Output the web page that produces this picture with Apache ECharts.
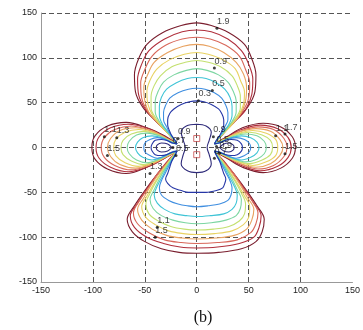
<!DOCTYPE html>
<html>
<head>
<meta charset="utf-8">
<script src="https://cdn.jsdelivr.net/npm/echarts@6/dist/echarts.min.js"></script>
<style>html,body{margin:0;padding:0;background:#fff;}#c{width:363px;height:330px;}</style>
</head>
<body>
<div id="c"></div>
<script>
// ---- data (x, y in axis units); null separates lobes ----
const ticks = [-150, -100, -50, 0, 50, 100, 150];
const levelNames = ['1.9','1.8','1.7','1.5','1.3','1.1','0.9','0.7','0.5','0.3'];
const levelColors = ['#7a1e2e','#b02f3c','#d8675a','#e8a260','#e8d262','#c4e070','#7cd6a2','#3fc4d6','#3f8ee0','#2636a6'];

const c0 = [[-19,4],[-28,16],[-40,30],[-52,45],[-59,62],[-60,81],[-56,99],[-48,115],[-33,128],[-15,136],[0,139],[14,136],[31,128],[46,115],[53,99],[57,81],[56,62],[49,45],[37,30],[26,16],[17,4],null,
 [17,4],[29,12],[44,22],[64,27],[81,23],[92,12],[95,0],[92,-12],[81,-23],[64,-28],[44,-22],[29,-12],[17,-4],null,
 [17,-4],[26,-16],[37,-31],[48,-48],[58,-65],[65,-80],[63,-94],[57,-105],[43,-113],[21,-117],[0,-118],[-17,-117],[-34,-113],[-50,-105],[-62,-94],[-67,-80],[-60,-65],[-50,-48],[-39,-31],[-28,-16],[-19,-4],null,
 [-19,-4],[-31,-12],[-48,-22],[-68,-29],[-86,-24],[-98,-13],[-101,0],[-98,13],[-86,24],[-68,28],[-48,22],[-31,13],[-19,4]];
const c1 = [[-19,4],[-27,15],[-38,28],[-49,42],[-56,59],[-57,76],[-53,93],[-46,108],[-31,121],[-14,129],[0,131],[14,129],[30,121],[43,108],[50,93],[54,76],[53,59],[47,42],[36,28],[25,15],[17,4],null,
 [17,4],[28,11],[43,20],[61,25],[78,21],[88,11],[91,0],[88,-11],[78,-21],[61,-26],[43,-20],[28,-11],[17,-4],null,
 [17,-4],[26,-15],[36,-30],[46,-46],[55,-62],[62,-76],[60,-89],[55,-100],[41,-107],[20,-111],[0,-112],[-16,-111],[-32,-107],[-48,-100],[-60,-89],[-64,-76],[-57,-62],[-48,-46],[-38,-30],[-28,-15],[-19,-4],null,
 [-19,-4],[-31,-12],[-46,-21],[-66,-27],[-83,-22],[-94,-12],[-97,0],[-94,12],[-83,22],[-66,26],[-46,21],[-31,12],[-19,4]];
const c2 = [[-19,4],[-27,15],[-37,27],[-47,40],[-53,55],[-54,72],[-50,87],[-43,102],[-30,114],[-14,121],[0,123],[13,121],[28,114],[41,102],[47,87],[51,72],[50,55],[44,40],[34,27],[25,15],[17,4],null,
 [17,4],[28,10],[42,18],[59,23],[74,20],[84,10],[87,0],[84,-10],[74,-20],[59,-24],[42,-18],[28,-10],[17,-4],null,
 [17,-4],[25,-15],[35,-28],[44,-44],[53,-59],[59,-73],[57,-85],[52,-95],[39,-103],[20,-106],[0,-107],[-15,-106],[-31,-103],[-46,-95],[-57,-85],[-61,-73],[-55,-59],[-46,-44],[-37,-28],[-27,-15],[-19,-4],null,
 [-19,-4],[-30,-11],[-45,-19],[-63,-25],[-79,-20],[-89,-11],[-92,0],[-89,11],[-79,20],[-63,24],[-45,19],[-30,11],[-19,4]];
const c3 = [[-19,4],[-26,14],[-35,25],[-45,37],[-50,52],[-51,67],[-47,82],[-41,95],[-28,106],[-13,113],[0,115],[12,113],[26,106],[38,95],[45,82],[48,67],[47,52],[42,37],[33,25],[24,14],[17,4],null,
 [17,4],[27,9],[40,17],[57,21],[71,18],[80,9],[83,0],[80,-9],[71,-18],[57,-22],[40,-17],[27,-9],[17,-4],null,
 [17,-4],[24,-14],[33,-27],[42,-42],[49,-56],[55,-69],[53,-81],[48,-91],[36,-98],[18,-101],[0,-102],[-14,-101],[-29,-98],[-43,-91],[-53,-81],[-57,-69],[-51,-56],[-44,-42],[-35,-27],[-26,-14],[-19,-4],null,
 [-19,-4],[-29,-10],[-42,-18],[-59,-23],[-74,-19],[-83,-10],[-86,0],[-83,10],[-74,19],[-59,22],[-42,18],[-29,10],[-19,4]];
const c4 = [[-19,4],[-25,13],[-34,23],[-42,35],[-47,48],[-48,62],[-45,75],[-38,88],[-26,98],[-12,104],[0,106],[11,104],[25,98],[37,88],[42,75],[46,62],[45,48],[40,35],[32,23],[23,13],[17,4],null,
 [17,4],[26,9],[38,15],[54,19],[67,16],[76,9],[78,0],[76,-9],[67,-16],[54,-20],[38,-15],[26,-9],[17,-4],null,
 [17,-4],[24,-14],[31,-26],[39,-40],[46,-54],[51,-66],[50,-78],[45,-86],[34,-93],[17,-96],[0,-97],[-13,-96],[-27,-93],[-40,-86],[-49,-78],[-53,-66],[-48,-54],[-41,-40],[-33,-26],[-26,-14],[-19,-4],null,
 [-19,-4],[-28,-9],[-40,-16],[-56,-21],[-69,-17],[-78,-9],[-80,0],[-78,9],[-69,17],[-56,20],[-40,16],[-28,9],[-19,4]];
const c5 = [[-19,4],[-25,12],[-32,22],[-39,32],[-44,44],[-44,57],[-41,69],[-35,80],[-24,90],[-11,95],[0,97],[11,95],[23,90],[34,80],[39,69],[42,57],[42,44],[37,32],[30,22],[23,12],[17,4],null,
 [17,4],[25,8],[37,14],[51,17],[63,14],[71,8],[73,0],[71,-8],[63,-14],[51,-18],[37,-14],[25,-8],[17,-4],null,
 [17,-4],[23,-13],[30,-25],[37,-38],[43,-51],[47,-63],[46,-74],[41,-82],[31,-88],[16,-91],[0,-92],[-12,-91],[-25,-88],[-37,-82],[-46,-74],[-49,-63],[-45,-51],[-39,-38],[-32,-25],[-25,-13],[-19,-4],null,
 [-19,-4],[-27,-8],[-38,-14],[-51,-19],[-63,-15],[-71,-8],[-73,0],[-71,8],[-63,15],[-51,18],[-38,14],[-27,8],[-19,4]];
const c6 = [[-19,4],[-24,12],[-30,20],[-36,29],[-40,40],[-40,52],[-37,63],[-32,73],[-22,81],[-10,86],[0,88],[10,86],[21,81],[30,73],[35,63],[38,52],[38,40],[34,29],[28,20],[22,12],[17,4],null,
 [17,4],[24.5,7],[34.5,12],[47,15],[58,13],[65,7],[67,0],[65,-7],[58,-13],[47,-16],[34.5,-12],[24.5,-7],[17,-4],null,
 [17,-4],[22,-13],[28,-23],[34,-35],[39,-47],[43,-58],[42,-68],[38,-76],[28,-81],[14,-84],[0,-85],[-11,-84],[-23,-81],[-34,-76],[-42,-68],[-45,-58],[-41,-47],[-36,-35],[-30,-23],[-24,-13],[-19,-4],null,
 [-19,-4],[-26,-7],[-36,-13],[-48,-17],[-58,-14],[-65,-7],[-67,0],[-65,7],[-58,14],[-48,16],[-36,13],[-26,7],[-19,4]];
const c7 = [[-19,4],[-23,11],[-28,18],[-33,26],[-36,36],[-36,46],[-34,56],[-29,65],[-20,72],[-9,77],[0,78],[9,77],[19,72],[27,65],[32,56],[34,46],[34,36],[31,26],[26,18],[21,11],[17,4],null,
 [17,4],[23.5,6],[32,10.5],[43,13],[52,11],[58,6],[60,0],[58,-6],[52,-11],[43,-14],[32,-10.5],[23.5,-6],[17,-4],null,
 [17,-4],[21,-12],[26,-21],[31,-32],[36,-43],[39,-53],[38,-62],[34,-69],[26,-74],[13,-76],[0,-77],[-10,-76],[-21,-74],[-31,-69],[-38,-62],[-41,-53],[-38,-43],[-33,-32],[-28,-21],[-23,-12],[-19,-4],null,
 [-19,-4],[-25,-6],[-33,-10.5],[-43,-14],[-52,-11],[-57,-6],[-59,0],[-57,6],[-52,11],[-43,13],[-33,10.5],[-25,6],[-19,4]];
const c8 = [[-19,4],[-22,10],[-26,16],[-29,23],[-32,31],[-32,39],[-30,47],[-26,55],[-18,61],[-8,65],[0,66],[8,65],[17,61],[24,55],[28,47],[30,39],[30,31],[27,23],[24,16],[20,10],[17,4],null,
 [17,4],[22,5],[29,9],[38,11],[46,9],[50.5,5],[52,0],[50.5,-5],[46,-9],[38,-12],[29,-9],[22,-5],[17,-4],null,
 [17,-4],[20,-11],[24,-19],[28,-28],[32,-37],[34,-45],[33,-53],[30,-59],[22,-63],[11,-65],[0,-66],[-9,-65],[-18,-63],[-27,-59],[-34,-53],[-36,-45],[-34,-37],[-30,-28],[-26,-19],[-22,-11],[-19,-4],null,
 [-19,-4],[-24,-5],[-30,-9],[-38,-12],[-45,-9],[-50,-5],[-51,0],[-50,5],[-45,9],[-38,11],[-30,9],[-24,5],[-19,4]];
const c9 = [[-19,4],[-21,8],[-24,13],[-26,18],[-28,25],[-28,31],[-26,38],[-22,43],[-15,48],[-7,51],[0,52],[7,51],[14,48],[21,43],[24,38],[26,31],[26,25],[24,18],[22,13],[19,8],[17,4],null,
 [17,4],[21,5],[26.5,7.5],[33,9],[39,8],[43,4],[44,0],[43,-4],[39,-8],[33,-9],[26.5,-7.5],[21,-5],[17,-4],null,
 [17,-4],[19,-9],[22,-15],[24,-22],[26,-29],[28,-35],[27,-40],[25,-45],[19,-48],[9,-50],[0,-50],[-8,-50],[-15,-48],[-23,-45],[-28,-40],[-30,-35],[-28,-29],[-26,-22],[-24,-15],[-21,-9],[-19,-4],null,
 [-19,-4],[-23,-5],[-28,-7.5],[-34,-9],[-40,-8],[-43,-4],[-44,0],[-43,4],[-40,8],[-34,9],[-28,7.5],[-23,5],[-19,4]];
// innermost level 0.1: central peanut and two small side loops
const cInner = [[0,26],[9,24],[14,17],[12,8],[10,0],[12,-8],[14,-18],[9,-26],[0,-28],[-9,-26],[-15,-18],[-13,-8],[-11,0],[-13,8],[-15,17],[-10,24],[0,26],null,
 [-24,0],[-28,4],[-34,5],[-38,3],[-39,0],[-38,-3],[-34,-5],[-28,-4],[-24,0],null,
 [22,0],[26,4],[31,5],[35,3],[36,0],[35,-3],[31,-5],[26,-4],[22,0]];
const innerName = '0.1';
const innerColor = '#2e2a7a';
const squares = [[0,10],[0,-8]];
const contourLabels = [[19.5,133,'1.9'],[17,88.6,'0.9'],[15,63.5,'0.5'],[1.6,52,'0.3'],
 [-89,12,'1.1'],[-77,11,'1.3'],[-86,-9,'1.5'],
 [76,13,'1.1'],[85,15,'1.7'],[85,-7,'1.5'],
 [-38,-89,'1.1'],[-40,-100,'1.5'],[-45,-29,'1.3'],
 [-18,10,'0.9'],[-23,0,'0.7'],[-20,-9,'0.5'],
 [16,12,'0.9'],[19,1,'0.5'],[22,-6,'0.9'],[17,-12,'0.7']];
const caption = '(b)';

const contours = [c0,c1,c2,c3,c4,c5,c6,c7,c8,c9];
const fix = arr => arr.map(p => p === null ? ['-','-'] : p);

const series = contours.map((arr, i) => ({
  type: 'line', name: levelNames[i], data: fix(arr), showSymbol: false, smooth: 0.35,
  connectNulls: false, lineStyle: {color: levelColors[i], width: 1.1}, z: 2, silent: true
}));
series.push({type: 'line', name: innerName, data: fix(cInner), showSymbol: false, smooth: 0.35,
  connectNulls: false, lineStyle: {color: innerColor, width: 1.1}, z: 2, silent: true});
series.push({type: 'scatter', data: squares, symbol: 'rect', symbolSize: 6,
  itemStyle: {color: 'rgba(0,0,0,0)', borderColor: '#c44a4a', borderWidth: 1}, z: 3, silent: true});
series.push({type: 'scatter', data: contourLabels, symbol: 'circle', symbolSize: 3,
  itemStyle: {color: '#111'}, z: 4, silent: true,
  label: {show: true, position: 'top', align: 'left', distance: 1, fontSize: 9,
    fontFamily: 'Liberation Sans', color: '#111', formatter: p => p.value[2]}});

const axisCommon = {
  type: 'value', min: ticks[0], max: ticks[ticks.length-1], interval: 50,
  axisLine: {show: true, onZero: false, lineStyle: {color: '#999', width: 1}},
  axisTick: {show: false},
  axisLabel: {fontSize: 9, color: '#222', fontFamily: 'Liberation Sans', margin: 4},
};
const chart = echarts.init(document.getElementById('c'), null, {renderer: 'canvas'});
chart.setOption({
  animation: false,
  backgroundColor: '#fff',
  grid: {left: 41, right: 3, top: 13, bottom: 48, containLabel: false},
  xAxis: Object.assign({}, axisCommon, {
    splitLine: {show: true, showMinLine: false, showMaxLine: false, lineStyle: {color: '#555', type: [5,3], width: 1}}
  }),
  yAxis: Object.assign({}, axisCommon, {
    splitLine: {show: true, showMinLine: false, showMaxLine: true, lineStyle: {color: '#555', type: [5,3], width: 1}}
  }),
  graphic: [{type: 'text', x: 203, y: 318, style: {text: caption, font: '16px "Liberation Serif"', fill: '#111', align: 'center', verticalAlign: 'middle'}}],
  series: series
});
</script>
</body>
</html>
